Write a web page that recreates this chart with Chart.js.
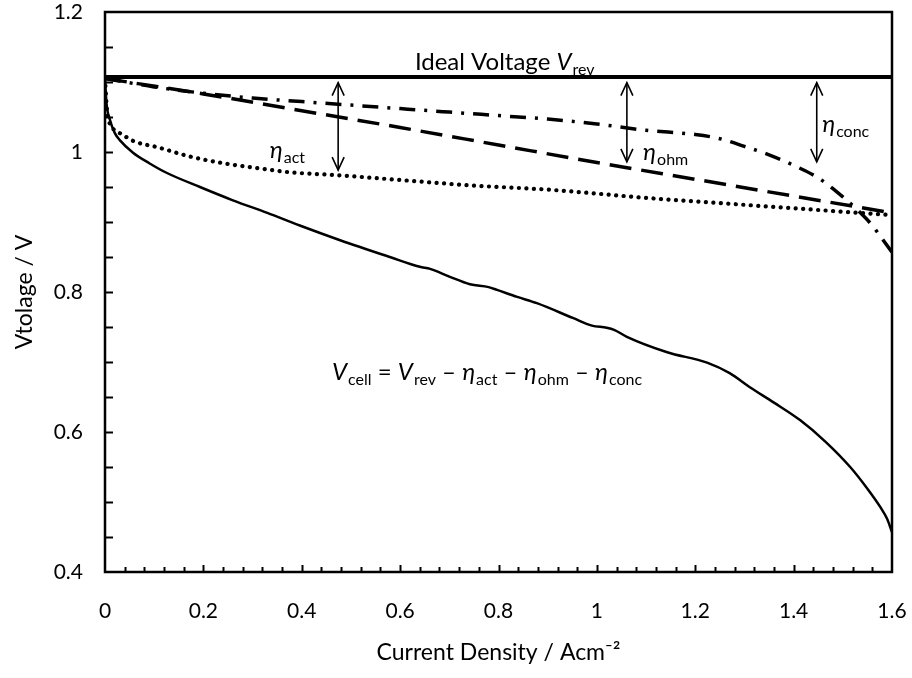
<!DOCTYPE html>
<html><head><meta charset="utf-8">
<script src="https://cdn.jsdelivr.net/npm/chart.js@4.4.1/dist/chart.umd.min.js"></script>
<style>html,body{margin:0;padding:0;background:#fff;}#wrap{width:912px;height:678px;}</style>
</head><body><div id="wrap"><canvas id="c" width="912" height="678"></canvas></div>
<script>
// ---- data ----
const xTickValues = [0, 0.2, 0.4, 0.6, 0.8, 1, 1.2, 1.4, 1.6];
const yTickValues = [0.4, 0.6, 0.8, 1, 1.2];

const idealX = [0, 1.6];
const idealV = [1.107, 1.107];

const ohmX = [0, 0.2, 0.4, 0.6, 0.8, 1.0, 1.2, 1.4, 1.6];
const ohmV = [1.105, 1.083, 1.059, 1.035, 1.01, 0.985, 0.961, 0.937, 0.913];

const concX = [0, 0.1, 0.2, 0.3, 0.4, 0.5, 0.6, 0.7, 0.8, 0.9, 1.0, 1.1, 1.2, 1.25, 1.3, 1.35, 1.4, 1.45, 1.5, 1.53, 1.56, 1.58, 1.6];
const concV = [1.105, 1.093, 1.084, 1.077, 1.072, 1.067, 1.062, 1.057, 1.052, 1.047, 1.04, 1.031, 1.025, 1.019, 1.008, 0.996, 0.981, 0.963, 0.936, 0.917, 0.895, 0.876, 0.857];

const actX = [0, 0.004, 0.01, 0.02, 0.03, 0.06, 0.106, 0.17, 0.24, 0.31, 0.376, 0.47, 0.6, 0.75, 0.905, 1.108, 1.311, 1.515, 1.6];
const actV = [1.105, 1.06, 1.04, 1.031, 1.027, 1.015, 1.007, 0.994, 0.984, 0.977, 0.971, 0.967, 0.96, 0.952, 0.946, 0.934, 0.924, 0.914, 0.91];

const cellX = [0, 0.003, 0.01, 0.02, 0.03, 0.057, 0.09, 0.126, 0.193, 0.26, 0.33, 0.396, 0.478, 0.579, 0.64, 0.661, 0.7, 0.742, 0.78, 0.797, 0.838, 0.878, 0.951, 0.99, 1.02, 1.035, 1.061, 1.143, 1.224, 1.27, 1.311, 1.36, 1.413, 1.465, 1.515, 1.55, 1.576, 1.59, 1.6];
const cellV = [1.105, 1.07, 1.046, 1.027, 1.017, 0.999, 0.984, 0.97, 0.95, 0.931, 0.913, 0.895, 0.874, 0.85, 0.836, 0.833, 0.822, 0.811, 0.807, 0.803, 0.793, 0.784, 0.763, 0.752, 0.749, 0.746, 0.736, 0.714, 0.699, 0.684, 0.664, 0.642, 0.617, 0.586, 0.55, 0.519, 0.493, 0.476, 0.457];

// double-headed arrows (data units)
const arrowX = [0.474, 1.061, 1.447];
const arrowTop = [1.099, 1.099, 1.099];
const arrowBottom = [0.974, 0.986, 0.986];

// ---- styling ----
const FONT = "Lato, 'Noto Sans', 'DejaVu Sans', sans-serif";
const BIG = 24, SUB = 16;

function pts(xs, ys) { return xs.map((x, i) => ({x: x, y: ys[i]})); }

// annotation texts, anchored in data units (left edge, baseline)
const notes = [
  {x: 0.63, y: 1.117, parts: [{t: 'Ideal Voltage ', s: BIG}, {t: 'V', s: BIG, i: 1}, {t: 'rev', s: SUB, dy: 5}]},
  {x: 0.335, y: 0.991, parts: [{t: 'η', s: BIG, i: 1}, {t: 'act', s: SUB, dy: 5}]},
  {x: 1.094, y: 0.989, parts: [{t: 'η', s: BIG, i: 1}, {t: 'ohm', s: SUB, dy: 5}]},
  {x: 1.458, y: 1.029, parts: [{t: 'η', s: BIG, i: 1}, {t: 'conc', s: SUB, dy: 5}]},
  {x: 0.4615, y: 0.674, parts: [
    {t: 'V', s: BIG, i: 1}, {t: 'cell', s: SUB, dy: 5}, {t: ' = ', s: BIG},
    {t: 'V', s: BIG, i: 1}, {t: 'rev', s: SUB, dy: 5}, {t: ' – ', s: BIG},
    {t: 'η', s: BIG, i: 1}, {t: 'act', s: SUB, dy: 5}, {t: ' – ', s: BIG},
    {t: 'η', s: BIG, i: 1}, {t: 'ohm', s: SUB, dy: 5}, {t: ' – ', s: BIG},
    {t: 'η', s: BIG, i: 1}, {t: 'conc', s: SUB, dy: 5}]}
];

function drawRich(ctx, x, y, parts) {
  let cx = x;
  ctx.textBaseline = 'alphabetic';
  ctx.textAlign = 'left';
  for (const p of parts) {
    ctx.font = (p.i ? 'italic ' : '') + p.s + 'px ' + FONT;
    ctx.fillText(p.t, cx, y + (p.dy || 0));
    cx += ctx.measureText(p.t).width + (p.i ? 1 : 0);
  }
}

const overlay = {
  id: 'overlay',
  afterDatasetsDraw(chart) {
    const ctx = chart.ctx, a = chart.chartArea;
    const xs = chart.scales.x, ys = chart.scales.y;
    ctx.save();
    ctx.strokeStyle = '#000';
    ctx.fillStyle = '#000';
    // frame
    ctx.lineWidth = 2.5;
    ctx.strokeRect(a.left, a.top, a.right - a.left, a.bottom - a.top);
    // inward ticks
    ctx.lineWidth = 2;
    const nx = Math.round((xs.max - xs.min) / 0.04);
    for (let k = 1; k < nx; k++) {
      const v = xs.min + k * 0.04;
      const px = Math.round(xs.getPixelForValue(v)) + 0.5;
      const major = k % 5 === 0;
      ctx.beginPath(); ctx.moveTo(px, a.bottom); ctx.lineTo(px, a.bottom - (major ? 7 : 5)); ctx.stroke();
    }
    const ny = Math.round((ys.max - ys.min) / 0.05);
    for (let k = 1; k < ny; k++) {
      const v = ys.min + k * 0.05;
      const py = Math.round(ys.getPixelForValue(v)) + 0.5;
      ctx.beginPath(); ctx.moveTo(a.left, py); ctx.lineTo(a.left + 8, py); ctx.stroke();
    }
    // arrows
    ctx.lineWidth = 1.6;
    for (let i = 0; i < arrowX.length; i++) {
      const px = xs.getPixelForValue(arrowX[i]);
      const t = ys.getPixelForValue(arrowTop[i]);
      const b = ys.getPixelForValue(arrowBottom[i]);
      ctx.beginPath(); ctx.moveTo(px, t); ctx.lineTo(px, b); ctx.stroke();
      ctx.beginPath();
      ctx.moveTo(px - 6, t + 13); ctx.lineTo(px, t); ctx.lineTo(px + 6, t + 13);
      ctx.moveTo(px - 6, b - 13); ctx.lineTo(px, b); ctx.lineTo(px + 6, b - 13);
      ctx.stroke();
    }
    // annotation texts
    for (const n of notes) {
      drawRich(ctx, xs.getPixelForValue(n.x), ys.getPixelForValue(n.y), n.parts);
    }
    ctx.restore();
  }
};

const common = {pointRadius: 0, borderColor: '#000', fill: false, cubicInterpolationMode: 'monotone'};
const fmt = v => String(+Number(v).toFixed(2));

new Chart(document.getElementById('c'), {
  type: 'line',
  data: {
    datasets: [
      Object.assign({label: 'Ideal Voltage', data: pts(idealX, idealV), borderWidth: 4}, common),
      Object.assign({label: 'Ohmic', data: pts(ohmX, ohmV), borderWidth: 3.5, borderDash: [22, 10]}, common),
      Object.assign({label: 'Concentration', data: pts(concX, concV), borderWidth: 3.5, borderDash: [16, 9, 3, 9]}, common),
      Object.assign({label: 'Activation', data: pts(actX, actV), borderWidth: 4.2, borderDash: [0.1, 7.4], borderCapStyle: 'round'}, common),
      Object.assign({label: 'Vcell', data: pts(cellX, cellV), borderWidth: 2.5}, common)
    ]
  },
  options: {
    responsive: false,
    animation: false,
    devicePixelRatio: 1,
    layout: {padding: {top: 12, right: 20, left: 0, bottom: 0}},
    plugins: {legend: {display: false}, tooltip: {enabled: false}},
    scales: {
      x: {
        type: 'linear', min: 0, max: 1.6,
        afterBuildTicks: s => { s.ticks = xTickValues.map(v => ({value: v})); },
        afterFit: s => { s.height = 106; s.paddingLeft = 0; s.paddingRight = 0; s.paddingTop = 0; s.paddingBottom = 0; },
        grid: {display: false, drawTicks: false},
        border: {display: false},
        ticks: {color: '#000', font: {family: FONT, size: 21}, padding: 27, maxRotation: 0, autoSkip: false, callback: fmt},
        title: {display: true, text: 'Current Density / Acm⁻²', color: '#000', font: {family: FONT, size: 23}, padding: {top: 12, bottom: 12}}
      },
      y: {
        type: 'linear', min: 0.4, max: 1.2,
        afterBuildTicks: s => { s.ticks = yTickValues.map(v => ({value: v})); },
        afterFit: s => { s.width = 105; s.paddingLeft = 0; s.paddingRight = 0; s.paddingTop = 0; s.paddingBottom = 0; },
        grid: {display: false, drawTicks: false},
        border: {display: false},
        ticks: {color: '#000', font: {family: FONT, size: 21}, padding: 22, callback: fmt},
        title: {display: true, text: 'Vtolage / V', color: '#000', font: {family: FONT, size: 23}, padding: {top: 11, bottom: 11}}
      }
    }
  },
  plugins: [overlay]
});
</script>
</body></html>
